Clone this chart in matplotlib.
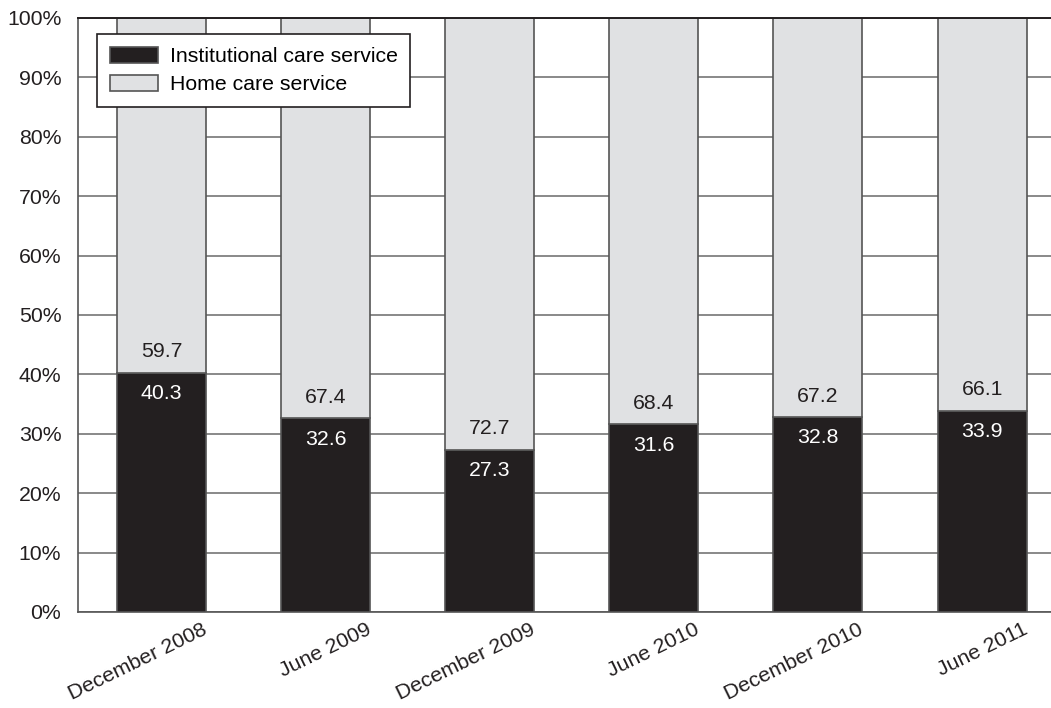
import matplotlib.pyplot as plt
import matplotlib.transforms as mtransforms
import numpy as np

plt.rcParams['font.family'] = ['Liberation Sans', 'DejaVu Sans']

periods = ["December 2008", "June 2009", "December 2009",
           "June 2010", "December 2010", "June 2011"]
institutional = [40.3, 32.6, 27.3, 31.6, 32.8, 33.9]
home = [59.7, 67.4, 72.7, 68.4, 67.2, 66.1]
yticks = [0, 10, 20, 30, 40, 50, 60, 70, 80, 90, 100]

dark = "#231f20"
light = "#e0e1e3"
fs = 15.3

fig = plt.figure(figsize=(10.51, 7.08), dpi=100)
ax = fig.add_axes([0.0742, 0.1356, 0.9258, 0.839])

x = np.arange(len(periods))
w = 0.542
ax.bar(x, institutional, w, color=dark, edgecolor="#555555", linewidth=1.2,
       label="Institutional care service", zorder=3)
ax.bar(x, home, w, bottom=institutional, color=light, edgecolor="#555555",
       linewidth=1.2, label="Home care service", zorder=3)

for xi, a, h in zip(x, institutional, home):
    ax.annotate(f"{a:.1f}", (xi, a), xytext=(0, -15), textcoords="offset points",
                ha="center", va="center", color="white", fontsize=fs, zorder=4)
    ax.annotate(f"{h:.1f}", (xi, a), xytext=(0, 15), textcoords="offset points",
                ha="center", va="center", color=dark, fontsize=fs, zorder=4)

ax.set_xlim(-0.509, 5.42)
ax.set_ylim(0, 100)
ax.set_yticks(yticks)
ax.set_yticklabels([f"{t}%" for t in yticks], fontsize=fs, color=dark)
ax.yaxis.grid(True, color="#6a6a6a", linewidth=1.1, zorder=0)
ax.set_axisbelow(True)
ax.axhline(100, color=dark, linewidth=1.4, zorder=4, clip_on=False)
ax.tick_params(axis="y", length=0, pad=12)
ax.tick_params(axis="x", length=0, pad=2)

ax.set_xticks(x)
ax.set_xticklabels(periods, rotation=26, ha="right", rotation_mode="anchor",
                   fontsize=fs, color=dark)
shift = mtransforms.ScaledTranslation(40 / 100, -5 / 100, fig.dpi_scale_trans)
for lab in ax.get_xticklabels():
    lab.set_transform(lab.get_transform() + shift)

for s in ["top", "right"]:
    ax.spines[s].set_visible(False)
ax.spines["left"].set_color("#555555")
ax.spines["bottom"].set_color("#555555")
ax.spines["left"].set_linewidth(1.2)
ax.spines["bottom"].set_linewidth(1.2)

leg = ax.legend(loc="upper left", bbox_to_anchor=(0.020, 0.973), fontsize=fs,
                frameon=True, fancybox=False, framealpha=1, edgecolor=dark,
                handlelength=2.25, handleheight=0.8, handletextpad=0.55,
                borderpad=0.6, labelspacing=0.4, borderaxespad=0)
leg.get_frame().set_linewidth(1.2)
leg.set_zorder(5)

fig.savefig("out.png", dpi=100)
